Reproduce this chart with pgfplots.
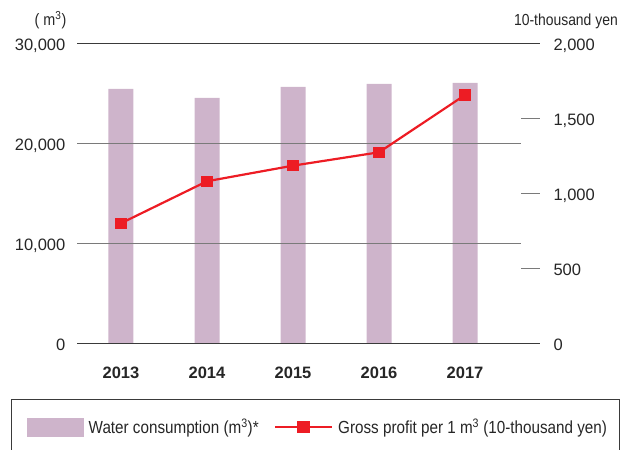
\documentclass[border=0pt]{standalone}
\usepackage{pgfplots}
\pgfplotsset{compat=1.18}
\usepackage{fontspec}
\setmainfont{Liberation Sans}
\newfontfamily\cond{Liberation Sans}[FakeStretch=0.87]
\definecolor{barcol}{HTML}{CEB4CB}
\definecolor{linecol}{HTML}{ED1C24}
\definecolor{darkline}{HTML}{3A3A3A}
\definecolor{gridcol}{HTML}{7A7A7A}
\begin{document}
\begin{tikzpicture}[x=1pt,y=1pt]
\begin{axis}[
  at={(77pt,106.3pt)}, anchor=south west,
  scale only axis, width=463pt, height=300pt,
  xmin=-0.5116, xmax=4.872, ymin=0, ymax=30000,
  axis line style={draw=none},
  major tick length=0pt,
  scaled y ticks=false,
  ytick={0,10000,20000,30000},
  ytick pos=left,
  xtick={0,1,2,3,4},
  xticklabels={2013,2014,2015,2016,2017},
  xtick pos=bottom,
  /pgf/number format/1000 sep={,},
  /pgf/number format/assume math mode=true,
  yticklabel style={anchor=base east, inner sep=0pt, xshift=-11.5pt, yshift=-7pt, font=\fontsize{16.5}{18}\selectfont, text=black!85},
  xticklabel style={anchor=base, inner sep=0pt, yshift=-35.3pt, font=\bfseries\fontsize{16.5}{18}\selectfont, text=black!85},
  clip=false,
]
\addplot[ybar, bar width=25pt, bar shift=0pt, fill=barcol, draw=none] coordinates {
  (0,25470) (1,24570) (2,25670) (3,25970) (4,26070)
};
\draw[gridcol, line width=1pt] (axis cs:-0.5116,10000) -- (axis cs:4.651,10000);
\draw[gridcol, line width=1pt] (axis cs:-0.5116,20000) -- (axis cs:4.651,20000);
\draw[darkline, line width=1pt] (axis cs:-0.5116,30000) -- (axis cs:4.872,30000);
\draw[darkline, line width=1.3pt] (axis cs:-0.5116,0) -- (axis cs:4.872,0);
\end{axis}
\begin{axis}[
  at={(77pt,106.3pt)}, anchor=south west,
  scale only axis, width=463pt, height=300pt,
  xmin=-0.5116, xmax=4.872, ymin=0, ymax=2000,
  hide x axis,
  axis line style={draw=none},
  major tick length=0pt,
  scaled y ticks=false,
  ytick={0,500,1000,1500,2000},
  ytick pos=right, yticklabel pos=right,
  /pgf/number format/1000 sep={,},
  /pgf/number format/assume math mode=true,
  yticklabel style={anchor=base west, inner sep=0pt, xshift=13.3pt, yshift=-7pt, font=\fontsize{16.5}{18}\selectfont, text=black!85},
  clip=false,
  legend style={at={(-0.1073,-0.2777)}, anchor=west, draw=none, fill=none,
    inner sep=0pt, outer sep=0pt, legend columns=2,
    font=\cond\fontsize{17.5}{19}\selectfont, text=black!85,
    nodes={inner sep=0pt},
    /tikz/every odd column/.append style={column sep=5pt},
    /tikz/every even column/.append style={column sep=15.3pt}},
]
\draw[gridcol, line width=1pt] (axis cs:4.651,500) -- (axis cs:4.872,500);
\draw[gridcol, line width=1pt] (axis cs:4.651,1000) -- (axis cs:4.872,1000);
\draw[gridcol, line width=1pt] (axis cs:4.651,1500) -- (axis cs:4.872,1500);
\addlegendimage{legend image code/.code={\fill[barcol] (0pt,-9pt) rectangle (56pt,9pt);}}
\addlegendentry{Water consumption (m\textsuperscript{3})*}
\addplot[color=linecol, line width=2.2pt, mark=square*, mark size=5.2pt,
  mark options={solid, fill=linecol, draw=linecol, line width=0pt},
  legend image code/.code={\draw[linecol, line width=2.2pt] (0pt,0pt) -- (57pt,0pt);
    \fill[linecol] (23.3pt,-5.2pt) rectangle (33.7pt,5.2pt);}] coordinates {
  (0,803) (1,1083) (2,1187) (3,1276) (4,1658)
};
\addlegendentry{Gross profit per 1 m\textsuperscript{3} (10-thousand yen)}
\end{axis}
\node[anchor=base east, inner sep=0pt, text=black!85, font=\cond\fontsize{16.5}{18}\selectfont] at (66.5,424) {( m\textsuperscript{3})};
\node[anchor=base east, inner sep=0pt, text=black!85, font=\cond\fontsize{16}{18}\selectfont] at (618,424) {10-thousand yen};
\draw[darkline, line width=0.9pt] (11,-20) rectangle (619,51);
\pgfresetboundingbox
\useasboundingbox (0,0) rectangle (630,450);
\end{tikzpicture}
\end{document}
